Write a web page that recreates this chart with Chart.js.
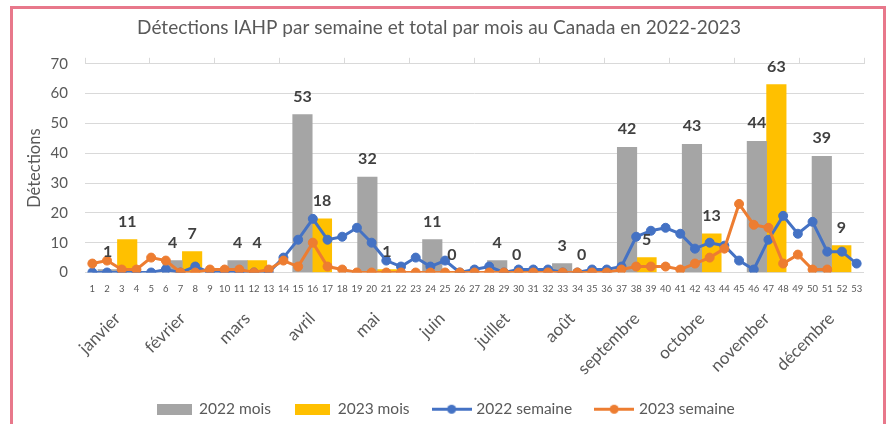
<!DOCTYPE html>
<html lang="fr">
<head>
<meta charset="utf-8">
<title>Détections IAHP</title>
<script src="https://cdn.jsdelivr.net/npm/chart.js@4.4.1/dist/chart.umd.min.js"></script>
<style>
  html, body { margin: 0; padding: 0; background: #fff; }
  #wrap { position: relative; width: 889px; height: 424px; overflow: hidden; }
  #frame { position: absolute; left: 10px; top: 6px; width: 870px; height: 440px;
           border: 3px solid #e8788b; border-bottom: none; pointer-events: none; }
  canvas { position: absolute; left: 0; top: 0; }
</style>
</head>
<body>
<div id="wrap">
  <canvas id="chart" width="889" height="427"></canvas>
  <div id="frame"></div>
</div>
<script>
// semaines (axe principal) et mois (axe secondaire)
const weeks = ['1','2','3','4','5','6','7','8','9','10','11','12','13','14','15','16','17','18',
  '19','20','21','22','23','24','25','26','27','28','29','30','31','32','33','34','35','36',
  '37','38','39','40','41','42','43','44','45','46','47','48','49','50','51','52','53'];
const months = ['janvier','février','mars','avril','mai','juin','juillet','août',
  'septembre','octobre','november','décembre'];

// total par mois
const mois2022 = [1, 4, 4, 53, 32, 11, 4, 3, 42, 43, 44, 39];
const mois2023 = [11, 7, 4, 18, 1, 0, 0, 0, 5, 13, 63, 9];

// détections par semaine
const semaine2022 = [0, 0, 0, 0, 0, 1, 0, 2, 0, 0, 0, 0, 0, 5, 11, 18, 11, 12,
  15, 10, 4, 2, 5, 2, 4, 0, 1, 2, 0, 1, 1, 1, 0, 0, 1, 1,
  2, 12, 14, 15, 13, 8, 10, 9, 4, 1, 11, 19, 13, 17, 7, 7, 3];
const semaine2023 = [3, 4, 1, 1, 5, 4, 0, 0, 1, 1, 1, 0, 1, 4, 2, 10, 2, 1,
  0, 0, 0, 0, 0, 0, 0, 0, 0, 0, 0, 0, 0, 0, 0, 0, 0, 0,
  1, 2, 2, 2, 1, 3, 5, 8, 23, 16, 15, 3, 6, 1, 1, null, null];

const FONT = 'Lato';
const TXT = '#595959';
const GRID = '#d9d9d9';

// petites icônes de légende (rectangle pour les barres, trait + point pour les lignes)
function legendIcon(color, kind) {
  const c = document.createElement('canvas');
  const g = c.getContext('2d');
  c.height = 11;
  if (kind === 'bar') {
    c.width = 35;
    g.fillStyle = color;
    g.fillRect(0, 0, 35, 11);
  } else {
    c.width = 40;
    g.fillStyle = color;
    g.strokeStyle = color;
    g.lineWidth = 3;
    g.beginPath();
    g.moveTo(0, 5.5);
    g.lineTo(40, 5.5);
    g.stroke();
    g.beginPath();
    g.arc(20, 5.5, 4.5, 0, Math.PI * 2);
    g.fill();
  }
  return c;
}

// étiquettes au-dessus des barres
const barLabels = {
  id: 'barLabels',
  afterDatasetsDraw(chart) {
    const ctx = chart.ctx;
    ctx.save();
    ctx.font = `bold 16px ${FONT}`;
    ctx.fillStyle = '#404040';
    ctx.textAlign = 'center';
    ctx.textBaseline = 'middle';
    chart.data.datasets.forEach((ds, i) => {
      if (ds.type !== 'bar') return;
      chart.getDatasetMeta(i).data.forEach((bar, j) => {
        ctx.fillText(String(ds.data[j]), bar.x, bar.y - 18);
      });
    });
    ctx.restore();
  }
};

// décale un peu la légende vers la droite, comme dans Excel
const legendShift = {
  id: 'legendShift',
  afterLayout(chart) {
    chart.legend.left += 7;
    chart.legend.right += 7;
  }
};

const lineStyle = color => ({
  borderColor: color,
  backgroundColor: color,
  borderWidth: 3,
  pointRadius: 4.5,
  pointBorderWidth: 1,
  pointBackgroundColor: color,
  tension: 0,
  grouping: false
});

// le premier jeu est dessiné au-dessus
const chart = new Chart(document.getElementById('chart'), {
  type: 'bar',
  data: {
    labels: weeks,
    datasets: [
      { type: 'line', label: '2023 semaine', data: semaine2023, xAxisID: 'x',
        ...lineStyle('#ed7d31') },
      { type: 'line', label: '2022 semaine', data: semaine2022, xAxisID: 'x',
        ...lineStyle('#4472c4') },
      { type: 'bar', label: '2022 mois', data: mois2022, backgroundColor: '#a5a5a5',
        xAxisID: 'x2', barThickness: 19.5 },
      { type: 'bar', label: '2023 mois', data: mois2023, backgroundColor: '#ffc000',
        xAxisID: 'x2', barThickness: 19.5 }
    ]
  },
  options: {
    responsive: false,
    animation: false,
    layout: { padding: { left: 14, right: 25, top: 10, bottom: 0 } },
    plugins: {
      tooltip: { enabled: false },
      title: {
        display: true,
        text: 'Détections IAHP par semaine et total par mois au Canada en 2022-2023',
        color: TXT,
        font: { family: FONT, size: 19, weight: 'normal' },
        padding: { top: 6, bottom: 10 }
      },
      legend: {
        position: 'bottom',
        labels: {
          usePointStyle: true,
          pointStyleWidth: 34,
          color: TXT,
          font: { family: FONT, size: 15.5 },
          padding: 25,
          generateLabels: c => [2, 3, 1, 0].map(i => {
            const ds = c.data.datasets[i];
            return {
              text: ds.label,
              datasetIndex: i,
              pointStyle: legendIcon(ds.backgroundColor, ds.type),
              fontColor: TXT,
              hidden: false,
              lineWidth: 0
            };
          })
        }
      }
    },
    scales: {
      x: {
        type: 'category', labels: weeks, position: 'bottom', weight: 0, offset: true,
        grid: { display: false, drawTicks: false }, border: { display: false },
        ticks: { autoSkip: false, minRotation: 0, maxRotation: 0, padding: 11,
                 color: TXT, font: { family: FONT, size: 9.5 } },
        afterFit: s => { s.height = 24; }
      },
      x2: {
        type: 'category', labels: months, position: 'bottom', weight: 1, offset: true,
        grid: { display: false, drawTicks: false }, border: { display: false },
        ticks: { autoSkip: false, minRotation: 45, maxRotation: 45, padding: 12,
                 color: TXT, font: { family: FONT, size: 17 } },
        afterFit: s => { s.height = 80; }
      },
      xTop: {
        type: 'category', labels: months, position: 'top', offset: true,
        grid: { offset: true, drawOnChartArea: false, drawTicks: true, tickLength: 6, color: GRID },
        border: { display: true, color: GRID },
        ticks: { display: false },
        afterFit: s => { s.height = 15; }
      },
      y: {
        min: 0, max: 70,
        grid: { color: GRID, drawTicks: false }, border: { display: false },
        ticks: { stepSize: 10, padding: 17, color: TXT, font: { family: FONT, size: 15 } },
        title: { display: true, text: 'Détections', color: TXT,
                 font: { family: FONT, size: 16.5 }, padding: { top: 11, bottom: 0 } },
        afterFit: s => { s.width = 71; }
      }
    }
  },
  plugins: [barLabels, legendShift]
});
</script>
</body>
</html>
